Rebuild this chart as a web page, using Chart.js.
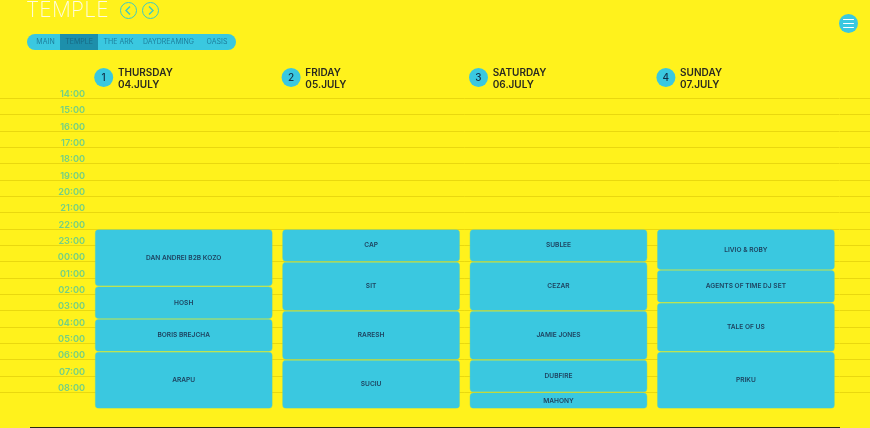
<!DOCTYPE html>
<html><head><meta charset="utf-8">
<script src="https://cdn.jsdelivr.net/npm/chart.js@4"></script>
<style>
html,body{margin:0;padding:0;background:#fff21c;width:870px;height:428px;overflow:hidden;font-family:Inter,"Open Sans",sans-serif}
#c{position:absolute;left:0;top:0}
.title{position:absolute;left:26px;top:-2px;font-size:21px;line-height:24px;font-weight:200;color:#fffbe0;letter-spacing:0.2px}
.arrow{position:absolute;top:2px;width:15px;height:15px;border:1.5px solid #3cc9c4;border-radius:50%}
.arrow svg{position:absolute;left:0;top:0}
.nav{position:absolute;left:27px;top:33.5px;width:209px;height:16px;border-radius:8px;background:#3ac8e0;overflow:hidden;font-size:7px;line-height:16px;color:#1e7f9c}
.nav span{position:absolute;top:0;height:16px;text-align:center}
.nav span.on{background:#1d8fab;color:#176a84}
.menu{position:absolute;left:838.5px;top:13.5px;width:19px;height:19px;border-radius:50%;background:#3ac8e0}
.menu i{position:absolute;left:4px;width:11px;height:1.6px;background:#fff;border-radius:1px}
.foot{position:absolute;left:30px;top:426.5px;width:810px;height:2px;background:#2a2a18}
</style></head><body>
<canvas id="c" width="870" height="428"></canvas>
<div class="title">TEMPLE</div>
<div class="arrow" style="left:120px"><svg width="15" height="15"><path d="M9 3.5L5 7.5L9 11.5" fill="none" stroke="#3cc9c4" stroke-width="1.4"/></svg></div>
<div class="arrow" style="left:142px"><svg width="15" height="15"><path d="M6 3.5L10 7.5L6 11.5" fill="none" stroke="#3cc9c4" stroke-width="1.4"/></svg></div>
<div class="nav">
<span style="left:4px;width:29px">MAIN</span>
<span class="on" style="left:33px;width:38px">TEMPLE</span>
<span style="left:71px;width:41px">THE ARK</span>
<span style="left:112px;width:59px">DAYDREAMING</span>
<span style="left:171px;width:38px">OASIS</span>
</div>
<div class="menu"><i style="top:5px"></i><i style="top:9px"></i><i style="top:13px"></i></div>
<div class="foot"></div>
<script>
const days = [["THURSDAY","04.JULY"],["FRIDAY","05.JULY"],["SATURDAY","06.JULY"],["SUNDAY","07.JULY"]];
const dayNumbers = ["1","2","3","4"];
const timeLabels = ["14:00","15:00","16:00","17:00","18:00","19:00","20:00","21:00","22:00","23:00","00:00","01:00","02:00","03:00","04:00","05:00","06:00","07:00","08:00"];
// hours counted from 14:00 on the first day
const slot1 = [[22,25.5],[22,24],[22,24],[22,24.5]];
const slot2 = [[25.5,27.5],[24,27],[24,27],[24.5,26.5]];
const slot3 = [[27.5,29.5],[27,30],[27,30],[26.5,29.5]];
const slot4 = [[29.5,33],[30,33],[30,32],[29.5,33]];
const slot5 = [null,null,[32,33],null];
const names1 = ["DAN ANDREI B2B KOZO","CAP","SUBLEE","LIVIO & ROBY"];
const names2 = ["HOSH","SIT","CEZAR","AGENTS OF TIME DJ SET"];
const names3 = ["BORIS BREJCHA","RARESH","JAMIE JONES","TALE OF US"];
const names4 = ["ARAPU","SUCIU","DUBFIRE","PRIKU"];
const names5 = ["","","MAHONY",""];

const slots = [[slot1,names1],[slot2,names2],[slot3,names3],[slot4,names4],[slot5,names5]];
const FONT = 'Inter, "Open Sans", sans-serif';

const decorate = {
  id:'decorate',
  afterDatasetsDraw(chart){
    const ctx = chart.ctx;
    ctx.save();
    ctx.textAlign='center'; ctx.textBaseline='middle';
    ctx.fillStyle='#1d3f5c';
    ctx.font='600 6.6px '+FONT;
    chart.data.datasets.forEach((ds,i)=>{
      chart.getDatasetMeta(i).data.forEach((bar,j)=>{
        if(ds.names[j] && ds.data[j]) ctx.fillText(ds.names[j], bar.x, (bar.y+bar.base)/2);
      });
    });
    const xs = chart.scales.x;
    dayNumbers.forEach((n,i)=>{
      const px = xs.getPixelForTick(i)-80;
      ctx.beginPath(); ctx.arc(px,77.5,9.5,0,Math.PI*2);
      ctx.fillStyle='#3ac8e0'; ctx.fill();
      ctx.fillStyle='#10304a'; ctx.font='500 10px '+FONT;
      ctx.fillText(n,px,78);
    });
    ctx.restore();
  }
};

new Chart(document.getElementById('c'),{
  type:'bar',
  data:{
    labels:days,
    datasets:slots.map(([d,n])=>({
      data:d, names:n,
      backgroundColor:'#3ac8e0',
      borderColor:'#8fd87a',
      borderWidth:0.6,
      borderSkipped:false,
      borderRadius:4,
      barPercentage:0.95,
      categoryPercentage:1,
      yAxisID:'y'
    }))
  },
  plugins:[decorate],
  options:{
    responsive:false,
    animation:false,
    grouped:false,
    layout:{padding:{top:0,left:0,right:0,bottom:19.2}},
    plugins:{legend:{display:false},tooltip:{enabled:false},title:{display:false}},
    scales:{
      x:{
        position:'top',
        offset:true,
        afterFit(s){s.height=98.5;},
        border:{display:false},
        grid:{display:false},
        ticks:{
          align:'start',labelOffset:-65.8,padding:0,maxRotation:0,autoSkip:false,
          color:'#2a2a20',
          font:{family:FONT,size:10,weight:'600',lineHeight:1.2}
        }
      },
      y:{
        position:'left',reverse:true,min:14,max:33,
        afterFit(s){s.width=90;},
        border:{display:false},
        grid:{
          tickLength:90,lineWidth:1,
          color:c=>c.tick.value===33?'rgba(0,0,0,0)':'#e9d80f',
          tickColor:c=>c.tick.value===33?'rgba(0,0,0,0)':'#e9d80f'
        },
        ticks:{
          stepSize:1,autoSkip:false,padding:-85,labelOffset:-4.2,
          color:'#72cf86',
          font:{family:FONT,size:9.2,weight:'600'},
          callback:v=>timeLabels[v-14]||''
        }
      },
      yr:{
        position:'right',reverse:true,min:14,max:33,
        afterFit(s){s.width=30.4;},
        border:{display:false},
        grid:{
          drawOnChartArea:false,tickLength:31,
          tickColor:c=>c.tick.value===33?'rgba(0,0,0,0)':'#e9d80f'
        },
        ticks:{stepSize:1,display:false}
      }
    }
  }
});
</script>
</body></html>
